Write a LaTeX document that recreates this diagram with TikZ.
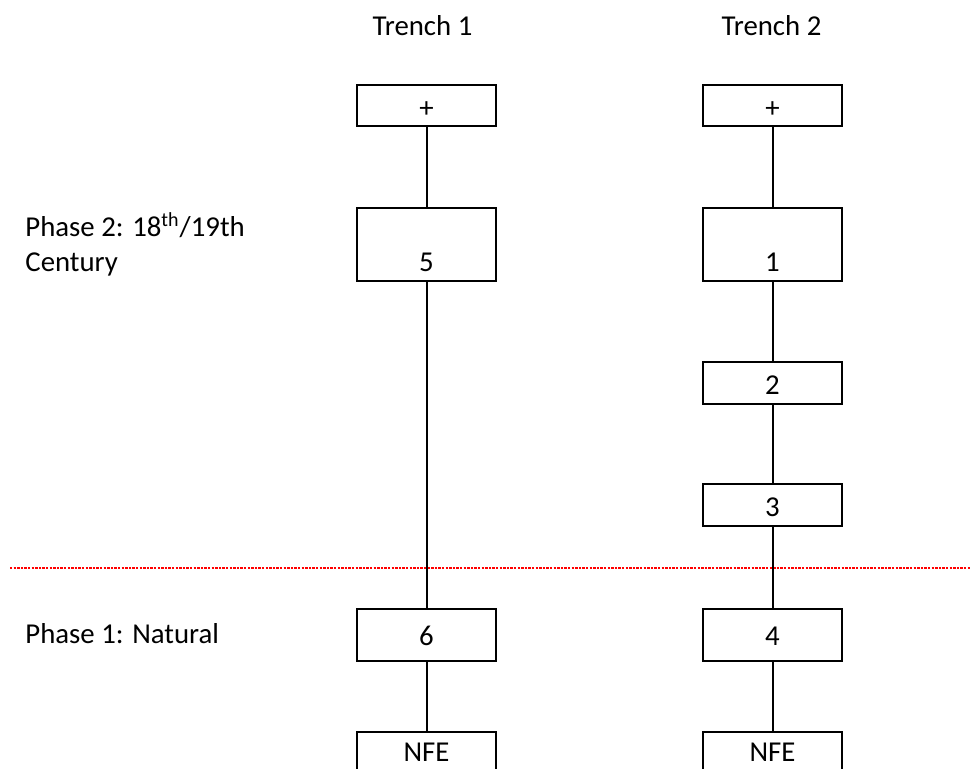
\documentclass[tikz,border=0pt]{standalone}
\usepackage{fontspec}
\setmainfont{Carlito}
\begin{document}
\begin{tikzpicture}[x=0.5pt,y=-0.5pt,
  every node/.style={font=\fontsize{14.4}{17.5}\selectfont},
  box/.style={draw=black, line width=1pt, minimum width=69.5pt, inner sep=0pt, text height=12pt, text depth=0pt, fill=white},
  link/.style={draw=black, line width=1pt},
  lbl/.style={anchor=base west, inner sep=0pt, align=left}]
\clip (0,0) rectangle (970,769);
\useasboundingbox (0,0) rectangle (970,769);
% phase divider
\draw[red, line width=0.6pt, dash pattern=on 1.2pt off 0.6pt] (10,568) -- (970,568);
% headings
\node[anchor=base, inner sep=0pt] (t1) at (422.5,36) {Trench 1};
\node[anchor=base, inner sep=0pt] (t2) at (771.5,36) {Trench 2};
% phase labels
\node[lbl] (p2a) at (25,237) {Phase 2: 18\textsuperscript{th}/19th};
\node[lbl] (p2b) at (25,272) {Century};
\node[lbl] (p1) at (25,644) {Phase 1: Natural};
% trench 1
\node[box, minimum height=20.5pt] (a0) at (426.5,105.5) {+};
\node[box, minimum height=36.5pt, text height=32pt, text depth=4.5pt] (a5) at (426.5,244.5) {5};
\node[box, minimum height=26pt, text height=11pt] (a6) at (426.5,635) {6};
\node[box, minimum height=21pt, text height=9pt] (aN) at (426.5,753) {NFE};
% trench 2
\node[box, minimum height=20.5pt] (b0) at (772.5,105.5) {+};
\node[box, minimum height=36.5pt, text height=32pt, text depth=4.5pt] (b1) at (772.5,244.5) {1};
\node[box, minimum height=21pt] (b2) at (772.5,383) {2};
\node[box, minimum height=21pt] (b3) at (772.5,505) {3};
\node[box, minimum height=26pt, text height=11pt] (b4) at (772.5,635) {4};
\node[box, minimum height=21pt, text height=9pt] (bN) at (772.5,753) {NFE};
% connectors
\draw[link] (a0) -- (a5);
\draw[link] (a5) -- (a6);
\draw[link] (a6) -- (aN);
\draw[link] (b0) -- (b1);
\draw[link] (b1) -- (b2);
\draw[link] (b2) -- (b3);
\draw[link] (b3) -- (b4);
\draw[link] (b4) -- (bN);
\end{tikzpicture}
\end{document}
